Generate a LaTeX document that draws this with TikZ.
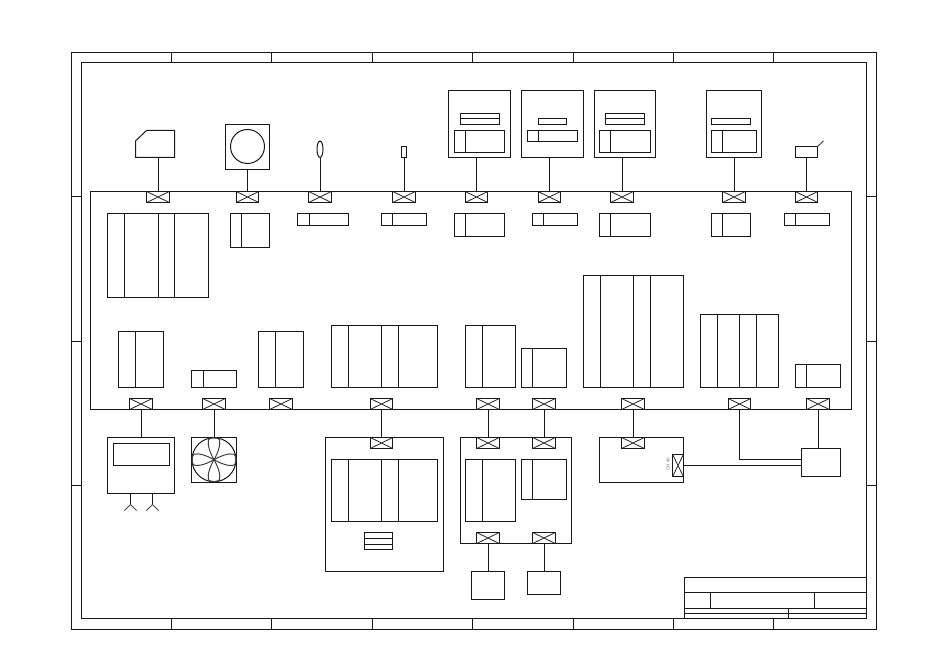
\documentclass[tikz,border=0pt]{standalone}
\usepackage{fontspec}
\setmainfont{Liberation Sans}
\usetikzlibrary{shapes.geometric}
\tikzset{
  ln/.style={line width=1bp,color=black!90},
  box/.style={ln,draw,rectangle,inner sep=0pt,outer sep=0pt},
  valve/.style={box,minimum width=#1,minimum height=11bp,
    path picture={\draw[line width=0.8bp,color=black!85] (path picture bounding box.north west)--(path picture bounding box.south east)
      (path picture bounding box.north east)--(path picture bounding box.south west);}},
  valve/.default=22.5bp,
  wire/.style={ln},
}
% box: name, x1, y1, x2, y2
\newcommand{\bx}[5]{%
  \pgfmathsetmacro\bw{#4-#2}\pgfmathsetmacro\bh{#5-#3}%
  \node[box,minimum width=\bw bp,minimum height=\bh bp,anchor=north west] (#1) at (#2,#3) {};}
% vertical dividers: x1,y1,y2,list
\newcommand{\dv}[4]{\foreach \s in {#4} {\draw[ln] (\s,#2)--(\s,#3);}}
% box with dividers
\newcommand{\sbx}[6]{\bx{#1}{#2}{#3}{#4}{#5}\dv{#2}{#3}{#5}{#6}}
% valve: name, center x, center y
\newcommand{\vv}[3]{\node[valve] (#1) at (#2,#3) {};}
\begin{document}
\begin{tikzpicture}[x=1bp,y=-1bp]
\useasboundingbox (0,0) rectangle (950,648);
\fill[white] (0,0) rectangle (950,648);
% frames
\bx{outer}{71.5}{52.5}{876}{629}
\bx{inner}{81}{62.5}{866.5}{618.5}
\foreach \x in {171.5,271.5,372.5,472.5,573,673,773} {
  \draw[ln] (\x,52.5)--(\x,62.5);
  \draw[ln] (\x,618.5)--(\x,629);
}
\foreach \y in {197,341,485} {
  \draw[ln] (71.5,\y)--(81,\y);
  \draw[ln] (866.5,\y)--(876,\y);
}
% title block
\bx{title}{684.5}{577.5}{866.5}{618.5}
\draw[ln] (684.5,592.5)--(866.5,592.5) (684.5,608.5)--(866.5,608.5) (684.5,613.5)--(866.5,613.5);
\draw[ln] (710.5,592.5)--(710.5,608.5) (814.5,592.5)--(814.5,608.5) (788.5,608.5)--(788.5,618.5);
% main cabinet
\bx{main}{90.5}{191.5}{851.5}{409.5}
% top valves
\foreach \n/\x in {t1/158,t2/247.5,t3/320,t4/404,t5/476.5,t6/549.3,t7/622,t8/734,t9/806.5} {\vv{\n}{\x}{197}}
% bottom valves
\foreach \n/\x in {b1/141,b2/214,b3/281,b4/381.5,b5/488,b6/544,b7/633,b8/739.5,b9/818} {\vv{\n}{\x}{404}}
% top devices
\draw[ln] (135.5,157.5)--(135.5,141)--(146.5,130.5)--(174.5,130.5)--(174.5,157.5)--cycle;
\coordinate (d1) at (158,157.5);
\bx{d2}{225.5}{124.5}{269.5}{169.5}
\node[ln,draw,circle,inner sep=0pt,outer sep=0pt,minimum size=34bp] (d2c) at (247.5,146.5) {};
\node[ln,draw,ellipse,inner sep=0pt,outer sep=0pt,minimum width=6bp,minimum height=16.5bp] (d3) at (320,149.3) {};
\bx{d4}{401.5}{146.5}{406.5}{157.5}
\bx{d5}{448.5}{90.5}{510.5}{157.5}
\bx{d5a}{460.5}{113.5}{499.5}{124.5}
\draw[ln] (460.5,118.5)--(499.5,118.5);
\sbx{d5b}{454.5}{130.5}{504.5}{152.5}{465.5}
\bx{d6}{521.5}{90.5}{583.5}{157.5}
\bx{d6a}{538}{118.5}{566.5}{124.5}
\sbx{d6b}{527.5}{130.5}{577.5}{141.5}{538.5}
\bx{d7}{594.5}{90.5}{655.5}{157.5}
\bx{d7a}{605.5}{113.5}{644.5}{124.5}
\draw[ln] (605.5,118.5)--(644.5,118.5);
\sbx{d7b}{599.5}{130.5}{650.5}{152.5}{610.5}
\bx{d8}{706.5}{90.5}{761.5}{157.5}
\bx{d8a}{711.5}{118.5}{750.5}{124.5}
\sbx{d8b}{711.5}{130.5}{756.5}{152.5}{722.5}
\bx{d9}{795.5}{146.5}{817.5}{157.5}
\draw[ln,color=black!70] (d9.north east)--(823.5,141);
% top connectors
\foreach \v/\d in {t1/d1,t2/d2,t3/d3,t4/d4,t5/d5,t6/d6,t7/d7,t8/d8,t9/d9} {
  \draw[wire] (\v.north)--(\v.north |- \d.south);
}
% cabinet upper row
\sbx{a1}{107.5}{213.5}{208.5}{297.5}{124.5,158.5,174.5}
\sbx{a2}{230.5}{213.5}{269.5}{247.5}{241.5}
\sbx{a3}{297.5}{213.5}{348.5}{225.5}{309.5}
\sbx{a4}{381.5}{213.5}{426.5}{225.5}{392.5}
\sbx{a5}{454.5}{213.5}{504.5}{236.5}{465.5}
\sbx{a6}{532.5}{213.5}{577.5}{225.5}{543.5}
\sbx{a7}{599.5}{213.5}{650.5}{236.5}{610.5}
\sbx{a8}{711.5}{213.5}{750.5}{236.5}{722.5}
\sbx{a9}{784.5}{213.5}{829.5}{225.5}{795.5}
% cabinet lower row
\sbx{c1}{118.5}{331.5}{163.5}{387.5}{135.5}
\sbx{c2}{191.5}{370.5}{236.5}{387.5}{203}
\sbx{c3}{258.5}{331.5}{303.5}{387.5}{275.5}
\sbx{c4}{331.5}{325.5}{437.5}{387.5}{348.5,381.5,398.5}
\sbx{c5}{465.5}{325.5}{515.5}{387.5}{482.5}
\sbx{c6}{521.5}{348.5}{566.5}{387.5}{532.5}
\sbx{c7}{583.5}{275.5}{683.5}{387.5}{600,633.5,650}
\sbx{c8}{700.5}{314.5}{778.5}{387.5}{717.3,739.3,756.3}
\sbx{c9}{795.5}{364.5}{840.5}{387.5}{806.5}
% left lower: unit with feet
\bx{u1}{107.5}{437.5}{174.5}{493.5}
\bx{u1a}{113.5}{443.5}{169.5}{465.5}
\coordinate (f1) at (130.5,504.5);
\coordinate (f2) at (152.5,504.5);
\draw[ln] (f1 |- u1.south)--(f1) (f2 |- u1.south)--(f2);
\draw[ln,color=black!70] (124.5,510.5)--(f1)--(136.5,510.5) (146.5,510.5)--(f2)--(158.5,510.5);
\draw[wire] (b1.south)--(b1.south |- u1.north);
% fan
\bx{fan}{191.5}{437.5}{236.5}{482.5}
\node[ln,draw,circle,inner sep=0pt,outer sep=0pt,minimum size=44bp] (fanc) at (214,459.7) {};
\foreach \a in {0,90,180,270} {
  \begin{scope}[shift={(214,459.7)},rotate=\a]
    \draw[ln,color=black!75] (0,0)
      .. controls (-3.5,-6) and (-7,-15) .. (-5.5,-20)
      .. controls (-4.5,-22.5) and (4.5,-22.5) .. (5.5,-20)
      .. controls (7,-15) and (3.5,-6) .. (0,0);
  \end{scope}
}
\draw[wire] (b2.south)--(b2.south |- fan.north);
% centre enclosure
\bx{e1}{325.5}{437.5}{443.5}{571.5}
\vv{e1v}{381.5}{443}
\sbx{e1a}{331.5}{459.5}{437.5}{521.5}{348.5,381.5,398.5}
\bx{e1b}{364.5}{532.5}{392.5}{549.5}
\draw[ln] (364.5,538.5)--(392.5,538.5) (364.5,544)--(392.5,544);
\draw[wire] (b4.south)--(e1v.north);
% second enclosure
\bx{e2}{460.5}{437.5}{571.5}{543.5}
\vv{e2v1}{488}{443}
\vv{e2v2}{544}{443}
\vv{e2v3}{488}{538}
\vv{e2v4}{544}{538}
\sbx{e2a}{465.5}{459.5}{515.5}{521.5}{482.5}
\sbx{e2b}{521.5}{459.5}{566.5}{499.5}{532.5}
\draw[wire] (b5.south)--(e2v1.north);
\draw[wire] (b6.south)--(e2v2.north);
\bx{p1}{471.5}{571.5}{504.5}{599.5}
\bx{p2}{527.5}{571.5}{560.5}{594.5}
\draw[wire] (e2v3.south)--(e2v3.south |- p1.north);
\draw[wire] (e2v4.south)--(e2v4.south |- p2.north);
% third enclosure
\bx{e3}{599.5}{437.5}{683.5}{482.5}
\vv{e3v}{633}{443}
\node[box,minimum width=11bp,minimum height=22.5bp,
  path picture={\draw[line width=0.8bp,color=black!85] (path picture bounding box.north west)--(path picture bounding box.south east)
      (path picture bounding box.north east)--(path picture bounding box.south west);}] (e3s) at (678,465.5) {};
\node[rotate=90,font=\fontsize{4.5}{5}\selectfont,text=black!55,inner sep=0pt] (e3t) at (668,464) {CH 40};
\draw[wire] (b7.south)--(e3v.north);
\bx{m}{801.5}{448.5}{840.5}{476.5}
\draw[wire] (e3s.east)--(e3s.east -| m.west);
\draw[wire] (b8.south)--(b8.south |- 0,459.5)--(m.west |- 0,459.5);
\draw[wire] (b9.south)--(b9.south |- m.north);
\end{tikzpicture}
\end{document}
